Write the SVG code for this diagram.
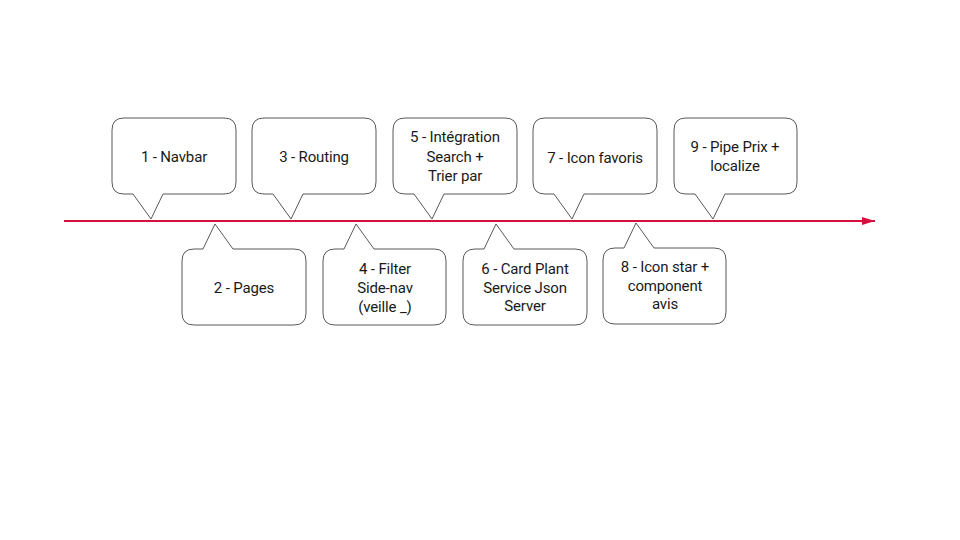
<svg xmlns="http://www.w3.org/2000/svg" width="960" height="540" viewBox="0 0 960 540">
<defs>
<style>
.box{fill:#ffffff;stroke:#595959;stroke-width:1}
.t{font-family:Roboto,"Liberation Sans",sans-serif;font-size:15px;letter-spacing:-0.15px;fill:#1a1a1a;text-anchor:middle}
</style>
<marker id="ah" viewBox="0 0 10 10" refX="10" refY="5" markerWidth="13" markerHeight="8" markerUnits="userSpaceOnUse" orient="auto" preserveAspectRatio="none">
<path d="M0,0 L10,5 L0,10 Z" fill="#d6103e"/>
</marker>
</defs>
<rect width="960" height="540" fill="#ffffff"/>
<g id="connectors">
<line x1="64" y1="221" x2="875" y2="221" stroke="#d6103e" stroke-width="2" marker-end="url(#ah)"/>
</g>
<g id="n1">
<path class="box" d="M124,118 H224 Q236,118 236,130 V182 Q236,194 224,194 H163 L151,219 L133,194 H124 Q112,194 112,182 V130 Q112,118 124,118 Z"/>
<text class="t" x="174" y="162">1 - Navbar</text>
</g>
<g id="n3">
<path class="box" d="M264,118 H364 Q376,118 376,130 V182 Q376,194 364,194 H303 L291,219 L273,194 H264 Q252,194 252,182 V130 Q252,118 264,118 Z"/>
<text class="t" x="314" y="162">3 - Routing</text>
</g>
<g id="n5">
<path class="box" d="M405,118 H505 Q517,118 517,130 V182 Q517,194 505,194 H444 L432,219 L414,194 H405 Q393,194 393,182 V130 Q393,118 405,118 Z"/>
<text class="t" x="455" y="142">5 - Intégration</text>
<text class="t" x="455" y="162">Search +</text>
<text class="t" x="455" y="181">Trier par</text>
</g>
<g id="n7">
<path class="box" d="M545,118 H645 Q657,118 657,130 V182 Q657,194 645,194 H584 L572,219 L554,194 H545 Q533,194 533,182 V130 Q533,118 545,118 Z"/>
<text class="t" x="595" y="163">7 - Icon favoris</text>
</g>
<g id="n9">
<path class="box" d="M686,118 H785 Q797,118 797,130 V182 Q797,194 785,194 H725 L713,219 L695,194 H686 Q674,194 674,182 V130 Q674,118 686,118 Z"/>
<text class="t" x="735" y="152">9 - Pipe Prix +</text>
<text class="t" x="735" y="171">localize</text>
</g>
<g id="n2">
<path class="box" d="M194,249 H203 L215,224 L233,249 H294 Q306,249 306,261 V313 Q306,325 294,325 H194 Q182,325 182,313 V261 Q182,249 194,249 Z"/>
<text class="t" x="244" y="293">2 - Pages</text>
</g>
<g id="n4">
<path class="box" d="M335,249 H344 L356,224 L374,249 H434 Q446,249 446,261 V313 Q446,325 434,325 H335 Q323,325 323,313 V261 Q323,249 335,249 Z"/>
<text class="t" x="385" y="274">4 - Filter</text>
<text class="t" x="385" y="293">Side-nav</text>
<text class="t" x="385" y="312">(veille _)</text>
</g>
<g id="n6">
<path class="box" d="M475,249 H484 L496,224 L514,249 H575 Q587,249 587,261 V313 Q587,325 575,325 H475 Q463,325 463,313 V261 Q463,249 475,249 Z"/>
<text class="t" x="525" y="274">6 - Card Plant</text>
<text class="t" x="525" y="293">Service Json</text>
<text class="t" x="525" y="311">Server</text>
</g>
<g id="n8">
<path class="box" d="M615,248 H624 L636,223 L654,248 H714 Q726,248 726,260 V312 Q726,324 714,324 H615 Q603,324 603,312 V260 Q603,248 615,248 Z"/>
<text class="t" x="665" y="272">8 - Icon star +</text>
<text class="t" x="665" y="291">component</text>
<text class="t" x="665" y="309">avis</text>
</g>
</svg>
